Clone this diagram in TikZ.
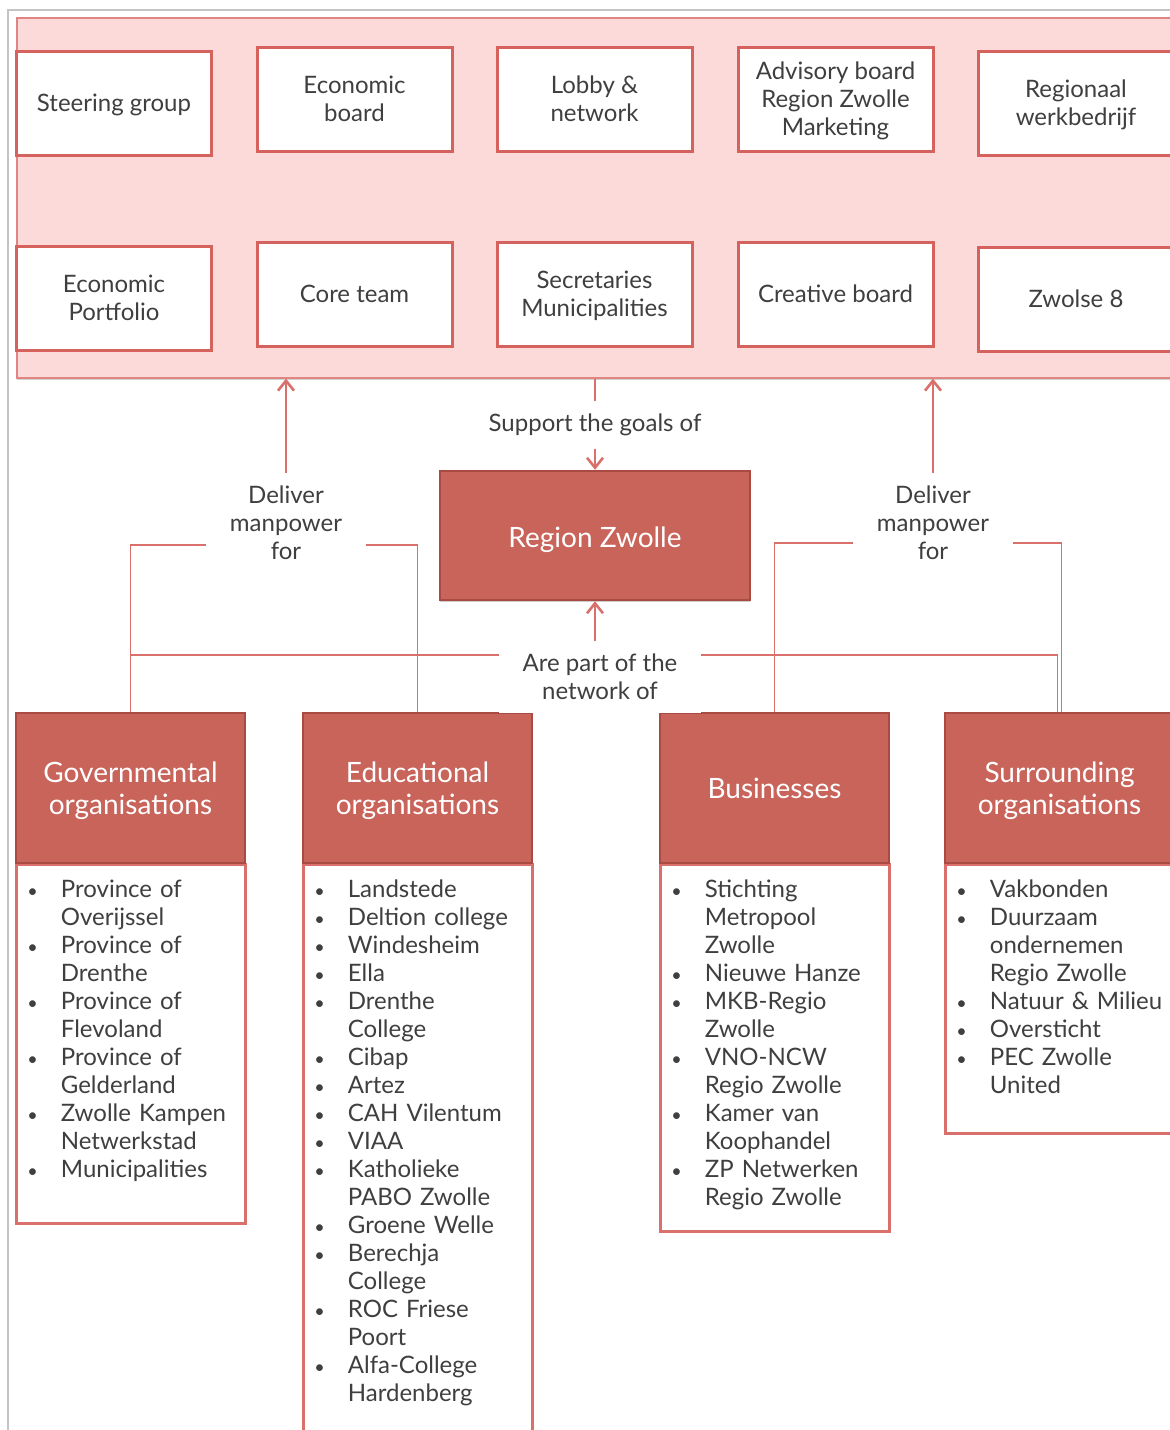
\documentclass[tikz,border=0pt]{standalone}
\usepackage{fontspec}
\setmainfont{Lato}
\usetikzlibrary{arrows.meta,positioning,shadows}

\definecolor{bandpink}{HTML}{FCDADA}
\definecolor{bandline}{HTML}{E08682}
\definecolor{boxred}{HTML}{D5625C}
\definecolor{headred}{HTML}{C9645B}
\definecolor{headdark}{HTML}{A94B43}
\definecolor{linkred}{HTML}{D9706B}
\definecolor{txtgray}{HTML}{3F3F3F}
\definecolor{framegray}{HTML}{C4C4C4}

\tikzset{
  band/.style={draw=bandline, line width=0.8pt, fill=bandpink,
    drop shadow={shadow xshift=0pt, shadow yshift=-1.2pt, opacity=0.35}},
  topbox/.style={draw=boxred, line width=1.5pt, fill=white,
    minimum width=97.5pt, minimum height=52pt, align=center,
    text depth=-2.5pt, text=txtgray, font=\fontsize{12}{14}\selectfont},
  rzbox/.style={draw=headdark, line width=1.2pt, fill=headred,
    minimum width=155pt, minimum height=64.5pt, text=white,
    text height=15pt, font=\fontsize{14}{16}\selectfont,
    drop shadow={shadow xshift=0pt, shadow yshift=-1pt, opacity=0.4}},
  headbox/.style={draw=headdark, line width=1.2pt, fill=headred,
    minimum width=114.5pt, minimum height=75pt, align=center,
    text depth=-3pt, text=white, font=\fontsize{14}{16}\selectfont},
  bodybox/.style={draw=linkred, line width=1.5pt, fill=white,
    minimum width=114.5pt, anchor=north},
  listtxt/.style={anchor=north west, inner sep=0pt, text width=150pt,
    text=txtgray, font=\fontsize{12}{14}\selectfont},
  lbl/.style={fill=white, align=center, text=txtgray,
    font=\fontsize{12}{14}\selectfont, inner xsep=12pt, inner ysep=6.5pt},
  link/.style={draw=linkred, line width=0.8pt},
  arr/.style={draw=linkred, line width=1.3pt,
    -{Straight Barb[length=5pt,width=8pt]}}
}

% bullet list for the organisation boxes
\newcommand{\orglist}[1]{%
  \setlength{\leftmargini}{23pt}\setlength{\labelsep}{11.5pt}%
  \setlength{\topsep}{0pt}\setlength{\partopsep}{0pt}%
  \renewcommand{\labelitemi}{\fontsize{9}{9}\selectfont\textbullet}%
  \raggedright
  \begin{itemize}\setlength{\itemsep}{0pt}\setlength{\parsep}{0pt}%
  \setlength{\parskip}{0pt}#1\end{itemize}}

\begin{document}
\begin{tikzpicture}[x=0.5pt, y=-0.5pt]
\useasboundingbox (0,0) rectangle (1170,1430);
\clip (0,0) rectangle (1170,1430);
\fill[white] (0,0) rectangle (1170,1430);
\draw[framegray, line width=0.8pt] (8,1440) -- (8,10) -- (1180,10);

% boards of the region
\node[band, minimum width=587pt, minimum height=180pt, anchor=north west]
  (band) at (16,17) {};
\node[topbox] (steer) at (114,103) {Steering group};
\node[topbox] (ecob) at (354.5,99) {Economic\\board};
\node[topbox] (lobby) at (594.5,99) {Lobby \&\\network};
\node[topbox] (advis) at (835.5,99) {Advisory board\\Region Zwolle\\Marketing};
\node[topbox] (werk) at (1076,103) {Regionaal\\werkbedrijf};
\node[topbox] (ecop) at (114,298) {Economic\\Portfolio};
\node[topbox] (core) at (354.5,294) {Core team};
\node[topbox] (secr) at (594.5,294) {Secretaries\\Municipalities};
\node[topbox] (creat) at (835.5,294) {Creative board};
\node[topbox] (zw8) at (1076,299) {Zwolse 8};

\node[rzbox] (rz) at (595,535.5) {Region Zwolle};

% organisation columns
\node[bodybox, minimum height=179.5pt] (govbody) at (130.5,863) {};
\node[bodybox, minimum height=293.5pt] (edubody) at (417.5,863) {};
\node[bodybox, minimum height=183.5pt] (busbody) at (774.5,863) {};
\node[bodybox, minimum height=134.5pt] (surbody) at (1059.5,863) {};
\node[headbox] (govhead) at (130.5,788) {Governmental\\organisations};
\node[headbox] (eduhead) at (417.5,788) {Educational\\organisations};
\node[headbox] (bushead) at (774.5,788) {Businesses};
\node[headbox] (surhead) at (1059.5,788) {Surrounding\\organisations};

\node[listtxt] (govlist) at ([yshift=5pt]govbody.north west) {\orglist{%
  \item Province of\newline Overijssel
  \item Province of\newline Drenthe
  \item Province of\newline Flevoland
  \item Province of\newline Gelderland
  \item Zwolle Kampen\newline Netwerkstad
  \item Municipalities}};
\node[listtxt] (edulist) at ([yshift=5pt]edubody.north west) {\orglist{%
  \item Landstede
  \item Deltion college
  \item Windesheim
  \item Ella
  \item Drenthe\newline College
  \item Cibap
  \item Artez
  \item CAH Vilentum
  \item VIAA
  \item Katholieke\newline PABO Zwolle
  \item Groene Welle
  \item Berechja\newline College
  \item ROC Friese\newline Poort
  \item Alfa-College\newline Hardenberg}};
\node[listtxt] (buslist) at ([yshift=5pt]busbody.north west) {\orglist{%
  \item Stichting\newline Metropool\newline Zwolle
  \item Nieuwe Hanze
  \item MKB-Regio\newline Zwolle
  \item VNO-NCW\newline Regio Zwolle
  \item Kamer van\newline Koophandel
  \item ZP Netwerken\newline Regio Zwolle}};
\node[listtxt] (surlist) at ([yshift=5pt]surbody.north west) {\orglist{%
  \item Vakbonden
  \item Duurzaam\newline ondernemen\newline Regio Zwolle
  \item Natuur \& Milieu
  \item Oversticht
  \item PEC Zwolle\newline United}};

% connectors
\draw[link] (govhead.north) -- ++(0,-167) -| (eduhead.north);
\draw[link] (bushead.north) -- ++(0,-169) -| ([xshift=1pt]surhead.north);
\draw[link] (govhead.north) ++(0,-57) -| ([xshift=-1pt]surhead.north);
\draw[arr] (band.south -| rz.north) -- (rz.north);

\node[lbl] (suplbl) at (595,425) {Support the goals of};
\node[lbl] (dellft) at (286,523) {Deliver\\manpower\\for};
\node[lbl] (delrgt) at (933,523) {Deliver\\manpower\\for};
\node[lbl] (netlbl) at (600,677) {Are part of the\\network of};

\draw[arr] (dellft.north) -- (dellft.north |- band.south);
\draw[arr] (delrgt.north) -- (delrgt.north |- band.south);
\draw[arr] (rz.south |- netlbl.north) -- (rz.south);
\end{tikzpicture}
\end{document}
